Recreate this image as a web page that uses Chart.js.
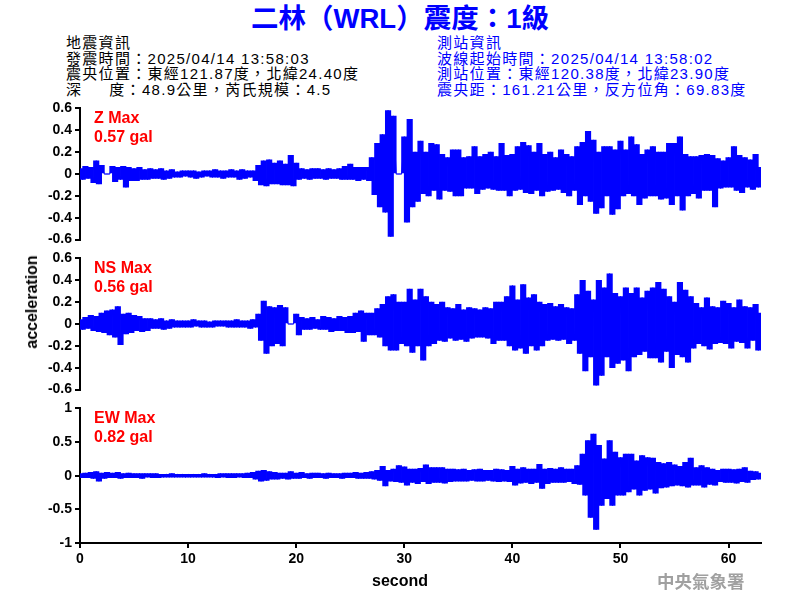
<!DOCTYPE html>
<html>
<head>
<meta charset="utf-8">
<script src="https://cdn.jsdelivr.net/npm/chart.js@4.4.1/dist/chart.umd.min.js"></script>
<style>
  body { margin: 0; width: 800px; height: 600px; position: relative; overflow: hidden; background: #fff;
         font-family: "Liberation Sans", "Noto Sans CJK TC", sans-serif; }
  canvas { position: absolute; left: 0; }
  .title { position: absolute; left: 0; width: 800px; top: 3px; text-align: center; color: #0000ff;
           font-size: 27.5px; font-weight: bold; line-height: 32px; }
  .info { position: absolute; top: 35px; font-size: 15px; letter-spacing: 1.3px; line-height: 15.5px; white-space: nowrap; }
  .info.left { left: 66px; color: #000; }
  .info.right { left: 437px; color: #0000ff; }
  .gap { display: inline-block; width: 27px; }
  .maxlbl { position: absolute; left: 94px; color: #ff0000; font-size: 16px; font-weight: bold; line-height: 19px; }
  .axis-title { position: absolute; font-size: 16px; font-weight: bold; color: #000; white-space: nowrap; }
  .footer { position: absolute; left: 657px; top: 571px; color: #a0a0a0; font-size: 17.5px; font-weight: bold;
            line-height: 20px; font-family: "Noto Sans CJK TC", sans-serif; }
</style>
</head>
<body>
<div class="title">二林（WRL）震度：1級</div>
<div class="info left">地震資訊<br>發震時間：2025/04/14 13:58:03<br>震央位置：東經121.87度，北緯24.40度<br>深<span class="gap"></span>度：48.9公里，芮氏規模：4.5</div>
<div class="info right">測站資訊<br>波線起始時間：2025/04/14 13:58:02<br>測站位置：東經120.38度，北緯23.90度<br>震央距：161.21公里，反方位角：69.83度</div>

<canvas id="zChart" width="800" height="154" style="top:97px"></canvas>
<canvas id="nsChart" width="800" height="154" style="top:247px"></canvas>
<canvas id="ewChart" width="800" height="196" style="top:397px"></canvas>

<div class="maxlbl" id="zLbl" style="top:108px"></div>
<div class="maxlbl" id="nsLbl" style="top:258px"></div>
<div class="maxlbl" id="ewLbl" style="top:408px"></div>

<div class="axis-title" style="left:32px;top:302px;transform:translate(-50%,-50%) rotate(-90deg)">acceleration</div>
<div class="axis-title" style="left:400px;top:581px;transform:translate(-50%,-50%)">second</div>
<div class="footer">中央氣象署</div>

<script>
Chart.defaults.font.family = "'Liberation Sans', Arial, sans-serif";
Chart.defaults.color = "#000";

// turning points, alternating up/down, one every SAMPLE_STEP seconds
const SAMPLE_STEP = 0.25;
const X_MAX = 63;
const X_TICKS = [0, 10, 20, 30, 40, 50, 60];
const Z_TICKS = [-0.6, -0.4, -0.2, 0, 0.2, 0.4, 0.6];
const NS_TICKS = [-0.6, -0.4, -0.2, 0, 0.2, 0.4, 0.6];
const EW_TICKS = [-1, -0.5, 0, 0.5, 1];

const CHANNELS = ["Z", "NS", "EW"];
const MAX_GAL = [0.57, 0.56, 0.82];

const Z_ACC = [
  0.05,-0.05,0.07,-0.04,  0.06,-0.08,0.12,-0.09,  0.08,0,0,0,  0.07,-0.07,0.06,-0.05,
  0.07,-0.12,0.06,-0.06,  0.05,-0.06,0.06,-0.05,  0.04,-0.05,0.05,-0.04,  0.04,-0.04,0.05,-0.05,
  0.03,-0.04,0.04,-0.03,  0.02,-0.03,0.03,-0.02,  0.03,-0.03,0.03,-0.04,  0.02,-0.03,0.03,-0.02,
  0.03,-0.03,0.04,-0.03,  0.03,-0.04,0.03,-0.03,  0.04,-0.03,0.03,-0.05,  0.04,-0.04,0.03,-0.03,
  0.03,-0.06,0.08,-0.1,  0.12,-0.11,0.13,-0.09,  0.1,-0.09,0.12,-0.1,  0.09,-0.1,0.17,-0.11,
  0.1,-0.05,0.05,-0.04,  0.04,-0.05,0.05,-0.04,  0.05,-0.04,0.04,-0.05,  0.05,-0.04,0.04,-0.04,
  0.05,-0.05,0.07,-0.05,  0.09,-0.05,0.06,-0.06,  0.06,-0.05,0.06,-0.06,  0.15,-0.19,0.28,-0.3,
  0.36,-0.35,0.58,-0.57,  0.53,0,0,0,  0.34,-0.44,0.5,-0.3,  0.2,-0.25,0.3,-0.18,
  0.2,-0.2,0.28,-0.15,  0.27,-0.23,0.18,-0.15,  0.15,-0.16,0.22,-0.2,  0.22,-0.2,0.15,-0.13,
  0.16,-0.13,0.25,-0.18,  0.16,-0.14,0.18,-0.13,  0.2,-0.14,0.16,-0.15,  0.28,-0.15,0.17,-0.2,
  0.18,-0.15,0.25,-0.14,  0.29,-0.17,0.26,-0.18,  0.2,-0.15,0.28,-0.2,  0.18,-0.16,0.2,-0.15,
  0.15,-0.14,0.22,-0.17,  0.18,-0.2,0.16,-0.15,  0.25,-0.28,0.29,-0.2,  0.39,-0.25,0.31,-0.36,
  0.2,-0.31,0.25,-0.2,  0.25,-0.37,0.22,-0.32,  0.3,-0.2,0.22,-0.18,  0.34,-0.2,0.27,-0.28,
  0.18,-0.22,0.22,-0.2,  0.25,-0.2,0.2,-0.23,  0.2,-0.22,0.28,-0.28,  0.28,-0.2,0.34,-0.33,
  0.18,-0.2,0.16,-0.18,  0.16,-0.22,0.17,-0.15,  0.18,-0.15,0.17,-0.3,  0.14,-0.13,0.12,-0.12,
  0.15,-0.12,0.25,-0.15,  0.17,-0.17,0.15,-0.12,  0.13,-0.14,0.18,-0.12,  0.06
];

const NS_ACC = [
  0.04,-0.05,0.06,-0.04,  0.08,-0.06,0.07,-0.07,  0.1,-0.08,0.12,-0.1,  0.13,-0.12,0.16,-0.19,
  0.09,-0.09,0.1,-0.08,  0.08,-0.06,0.07,-0.07,  0.05,-0.06,0.05,-0.04,  0.04,-0.04,0.05,-0.05,
  0.03,-0.04,0.04,-0.03,  0.03,-0.03,0.03,-0.03,  0.03,-0.03,0.04,-0.02,  0.03,-0.03,0.03,-0.03,
  0.02,-0.03,0.03,-0.02,  0.03,-0.02,0.03,-0.03,  0.03,-0.03,0.04,-0.03,  0.03,-0.03,0.03,-0.04,
  0.04,-0.03,0.09,-0.15,  0.21,-0.27,0.16,-0.2,  0.15,-0.18,0.17,-0.2,  0.15,0,0,0,
  0.09,-0.1,0.06,-0.05,  0.05,-0.05,0.06,-0.04,  0.04,-0.05,0.07,-0.05,  0.06,-0.07,0.05,-0.06,
  0.07,-0.06,0.06,-0.08,  0.07,-0.08,0.1,-0.07,  0.12,-0.16,0.1,-0.1,  0.1,-0.1,0.14,-0.12,
  0.18,-0.2,0.25,-0.24,  0.27,-0.24,0.2,-0.18,  0.2,-0.2,0.32,-0.26,  0.22,-0.2,0.32,-0.33,
  0.25,-0.2,0.2,-0.18,  0.18,-0.15,0.2,-0.16,  0.15,-0.13,0.14,-0.15,  0.18,-0.14,0.13,-0.16,
  0.15,-0.13,0.14,-0.12,  0.13,-0.12,0.15,-0.13,  0.14,-0.18,0.2,-0.15,  0.2,-0.15,0.25,-0.2,
  0.35,-0.24,0.22,-0.22,  0.36,-0.27,0.24,-0.2,  0.27,-0.24,0.2,-0.2,  0.18,-0.15,0.19,-0.14,
  0.16,-0.15,0.18,-0.14,  0.15,-0.18,0.14,-0.15,  0.27,-0.27,0.4,-0.43,  0.3,-0.3,0.22,-0.56,
  0.4,-0.47,0.33,-0.3,  0.46,-0.4,0.28,-0.36,  0.25,-0.33,0.33,-0.43,  0.28,-0.3,0.33,-0.28,
  0.24,-0.25,0.3,-0.31,  0.33,-0.31,0.38,-0.35,  0.32,-0.25,0.25,-0.4,  0.2,-0.28,0.38,-0.3,
  0.31,-0.35,0.25,-0.22,  0.19,-0.18,0.15,-0.2,  0.24,-0.23,0.16,-0.18,  0.15,-0.17,0.21,-0.18,
  0.19,-0.22,0.15,-0.16,  0.22,-0.17,0.16,-0.22,  0.15,-0.15,0.18,-0.24,  0.1
];

const EW_ACC = [
  0.03,-0.03,0.04,-0.03,  0.05,-0.04,0.06,-0.08,  0.04,-0.04,0.05,-0.03,  0.04,-0.03,0.05,-0.04,
  0.03,-0.03,0.04,-0.03,  0.03,-0.03,0.03,-0.04,  0.03,-0.02,0.03,-0.03,  0.03,-0.03,0.02,-0.02,
  0.02,-0.02,0.03,-0.02,  0.02,-0.02,0.02,-0.02,  0.02,-0.02,0.02,-0.02,  0.02,-0.02,0.03,-0.02,
  0.02,-0.02,0.02,-0.03,  0.03,-0.02,0.03,-0.03,  0.03,-0.03,0.03,-0.02,  0.03,-0.03,0.04,-0.03,
  0.05,-0.05,0.07,-0.08,  0.08,-0.07,0.06,-0.05,  0.05,-0.05,0.04,-0.04,  0.04,-0.05,0.06,-0.04,
  0.04,-0.04,0.05,-0.03,  0.03,-0.04,0.04,-0.03,  0.04,-0.03,0.03,-0.04,  0.04,-0.03,0.03,-0.03,
  0.03,-0.04,0.04,-0.03,  0.04,-0.03,0.05,-0.04,  0.04,-0.04,0.05,-0.04,  0.06,-0.05,0.08,-0.07,
  0.14,-0.15,0.08,-0.08,  0.1,-0.09,0.15,-0.1,  0.13,-0.14,0.1,-0.1,  0.1,-0.12,0.11,-0.09,
  0.16,-0.12,0.12,-0.1,  0.12,-0.1,0.12,-0.11,  0.1,-0.09,0.1,-0.08,  0.09,-0.08,0.1,-0.08,
  0.08,-0.07,0.09,-0.08,  0.1,-0.08,0.08,-0.07,  0.08,-0.08,0.1,-0.09,  0.09,-0.08,0.08,-0.09,
  0.14,-0.14,0.1,-0.11,  0.12,-0.1,0.1,-0.12,  0.1,-0.1,0.17,-0.19,  0.1,-0.12,0.11,-0.1,
  0.1,-0.1,0.12,-0.1,  0.1,-0.09,0.1,-0.12,  0.15,-0.13,0.32,-0.29,  0.52,-0.62,0.62,-0.8,
  0.45,-0.44,0.25,-0.34,  0.52,-0.44,0.35,-0.29,  0.27,-0.29,0.32,-0.24,  0.32,-0.2,0.22,-0.29,
  0.3,-0.22,0.27,-0.2,  0.26,-0.26,0.2,-0.18,  0.18,-0.17,0.2,-0.15,  0.16,-0.14,0.14,-0.15,
  0.2,-0.17,0.26,-0.14,  0.12,-0.14,0.15,-0.17,  0.12,-0.13,0.1,-0.14,  0.08,-0.09,0.1,-0.1,
  0.1,-0.1,0.09,-0.11,  0.1,-0.09,0.12,-0.1,  0.07,-0.06,0.06,-0.05,  0.04
];

// ── Axis helpers ─────────────────────────────────────────────────────────

function axisStyle() {
  return {
    grid: { display: true, drawOnChartArea: false, drawTicks: true, tickLength: 5, color: "#000", lineWidth: 2, offset: false },
    border: { display: true, color: "#000", width: 2 },
    ticks: { color: "#000", padding: 3, autoSkip: false, maxRotation: 0, font: { size: 14, weight: "bold" }, callback: v => String(v) }
  };
}

// ── One seismogram panel ─────────────────────────────────────────────────
// the trace is a line through the turning points; each swing between two
// turning points is also filled as a floating bar so the band reads solid

function makePanel(id, values, yTicks, showX) {
  const ctx = document.getElementById(id);
  const trace = values.map((v, i) => ({ x: i * SAMPLE_STEP, y: v }));
  const swings = values.slice(0, -1).map((v, i) => ({
    x: (i + 0.5) * SAMPLE_STEP,
    y: [Math.min(v, values[i + 1]), Math.max(v, values[i + 1])]
  }));

  const xScale = {
    type: "linear", min: 0, max: X_MAX, display: showX, offset: false,
    afterBuildTicks: s => { s.ticks = X_TICKS.map(v => ({ value: v })); },
    ...axisStyle()
  };
  if (showX) xScale.afterFit = s => { s.height = 50; };

  new Chart(ctx, {
    type: "bar",
    data: {
      datasets: [
        { type: "line", data: trace, borderColor: "#0000ff", borderWidth: 1, pointRadius: 0, tension: 0 },
        { type: "bar", data: swings, backgroundColor: "#0000ff", borderWidth: 0, barThickness: 2.8 }
      ]
    },
    options: {
      responsive: false,
      animation: false,
      events: [],
      layout: { padding: { left: 0, right: 39, top: 10, bottom: showX ? 0 : 8 } },
      plugins: { legend: { display: false }, tooltip: { enabled: false } },
      scales: {
        x: xScale,
        y: {
          min: yTicks[0], max: yTicks[yTicks.length - 1],
          afterBuildTicks: s => { s.ticks = yTicks.map(v => ({ value: v })); },
          afterFit: s => { s.width = 80; },
          ...axisStyle()
        }
      }
    }
  });
}

// ── Max labels ───────────────────────────────────────────────────────────

["zLbl", "nsLbl", "ewLbl"].forEach((id, i) => {
  document.getElementById(id).innerHTML = CHANNELS[i] + " Max<br>" + MAX_GAL[i] + " gal";
});

// ── Init ─────────────────────────────────────────────────────────────────

makePanel("zChart", Z_ACC, Z_TICKS, false);
makePanel("nsChart", NS_ACC, NS_TICKS, false);
makePanel("ewChart", EW_ACC, EW_TICKS, true);
</script>
</body>
</html>
